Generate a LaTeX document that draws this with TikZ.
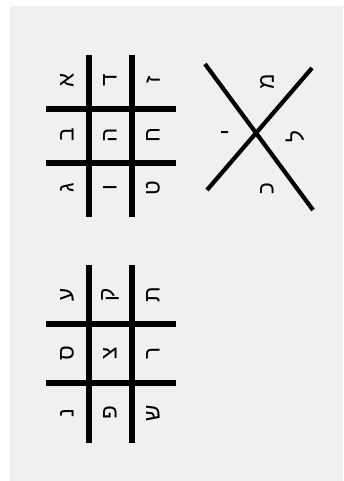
\documentclass[tikz,border=0pt]{standalone}
\usepackage{fontspec}
\newfontfamily\hebfont[Script=Hebrew]{Liberation Sans}
\definecolor{PaperGrey}{RGB}{240,240,240}
\begin{document}
\begin{tikzpicture}[x=0.025cm,y=-0.025cm,
    gridline/.style={line width=3.6pt},
    crossline/.style={line width=3pt},
    glyph/.style={rotate=90,inner sep=0pt,font=\hebfont\fontsize{16}{16}\selectfont}
  ]
  \useasboundingbox (0,0) rectangle (343,481);
  \fill[PaperGrey] (10,6) rectangle (343,481);
  % first square
  \foreach \x in {89,132} \draw[gridline] (\x,55) -- (\x,217);
  \foreach \y in {109,163} \draw[gridline] (46,\y) -- (176,\y);
  \node[glyph] (alef)  at (67,80)   {א};
  \node[glyph] (bet)   at (67,135)  {ב};
  \node[glyph] (gimel) at (67,188)  {ג};
  \node[glyph] (dalet) at (110,80)  {ד};
  \node[glyph] (he)    at (110,135) {ה};
  \node[glyph] (vav)   at (110,188) {ו};
  \node[glyph] (zayin) at (153,80)  {ז};
  \node[glyph] (het)   at (153,135) {ח};
  \node[glyph] (tet)   at (153,188) {ט};
  % the cross
  \coordinate (xa) at (205,64);
  \coordinate (xb) at (313,210);
  \coordinate (xc) at (312,68);
  \coordinate (xd) at (207,190);
  \draw[crossline] (xa) -- (xb);
  \draw[crossline] (xc) -- (xd);
  \node[glyph] (yod)   at (228,133) {י};
  \node[glyph] (kaf)   at (267,189) {כ};
  \node[glyph] (lamed) at (295,137) {ל};
  \node[glyph] (mem)   at (267,82)  {מ};
  % second square
  \foreach \x in {89,132} \draw[gridline] (\x,265) -- (\x,443);
  \foreach \y in {324,383} \draw[gridline] (46,\y) -- (176,\y);
  \node[glyph] (ayin)   at (67,295)  {ע};
  \node[glyph] (samekh) at (67,353)  {ס};
  \node[glyph] (nun)    at (67,413)  {נ};
  \node[glyph] (qof)    at (110,295) {ק};
  \node[glyph] (tsadi)  at (110,353) {צ};
  \node[glyph] (pe)     at (110,413) {פ};
  \node[glyph] (tav)    at (153,295) {ת};
  \node[glyph] (resh)   at (153,353) {ר};
  \node[glyph] (shin)   at (153,413) {ש};
\end{tikzpicture}
\end{document}
